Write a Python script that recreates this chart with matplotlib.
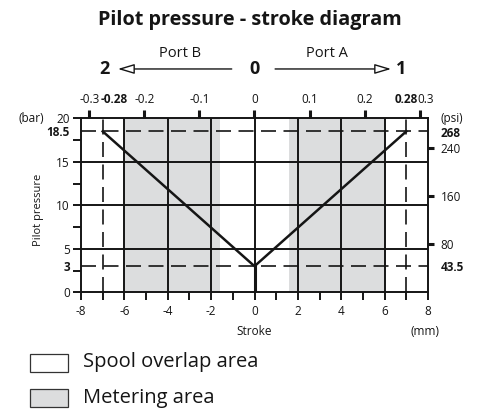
import matplotlib
matplotlib.use("Agg")
import matplotlib.pyplot as plt
from matplotlib.patches import Rectangle
from matplotlib.ticker import FixedLocator
from matplotlib.transforms import ScaledTranslation

plt.rcParams['font.family'] = ['Open Sans', 'DejaVu Sans']

# pilot pressure vs spool stroke
stroke_mm = [-7, 0, 7]
pressure_bar = [18.5, 3, 18.5]

# metering zones on each side of the overlap area (mm)
metering_areas = [(-6, -1.6), (1.6, 6)]

grid_x = [-6, -4, -2, 0, 2, 4, 6]
grid_y = [5, 10, 15]
limit_x = [-7, 7]
limit_y = [3, 18.5]

bar_ticks = [0, 3, 5, 10, 15, 18.5, 20]
bar_labels = ['0', '3', '5', '10', '15', '18.5', '20']
bar_bold = ['3', '18.5']
mm_ticks = [-8, -6, -4, -2, 0, 2, 4, 6, 8]
inch_ticks = [-0.3, -0.2, -0.1, 0, 0.1, 0.2, 0.3]
inch_labels = ['-0.3', '-0.2', '-0.1', '0', '0.1', '0.2', '0.3']
inch_limit_labels = ['-0.28', '0.28']
psi_ticks = [43.5, 80, 160, 240, 268]
psi_labels = ['43.5', '80', '160', '240', '268']
psi_bold = ['43.5', '268']

legend_labels = ['Spool overlap area', 'Metering area']
metering_color = '#dcddde'
ink = '#151515'

MM_PER_IN = 25.4
PSI_PER_BAR = 14.5038
TICK_FS = 8.5

fig = plt.figure(figsize=(4.78, 4.12), dpi=100)
ax = fig.add_axes([81 / 478, 1 - 292.3 / 412, 347 / 478, 174 / 412])
ax.set_xlim(-8, 8)
ax.set_ylim(0, 20)

for x0, x1 in metering_areas:
    ax.axvspan(x0, x1, color=metering_color, lw=0, zorder=0)

for x in grid_x:
    ax.axvline(x, color=ink, lw=1.4, zorder=1)
for y in grid_y:
    ax.axhline(y, color=ink, lw=1.4, zorder=1)
for x in limit_x:
    ax.axvline(x, color=ink, lw=1.2, dashes=(9, 4.5), zorder=1)
for y in limit_y:
    ax.axhline(y, color=ink, lw=1.2, dashes=(9, 4.5), zorder=1)

# thicker stem under the vertex
ax.plot([0, 0], [0, 3], color=ink, lw=2.2, zorder=2)
ax.plot(stroke_mm, pressure_bar, color=ink, lw=1.8, zorder=3)

for sp in ax.spines.values():
    sp.set_linewidth(1.4)
    sp.set_color(ink)

# bottom / left axes
ax.set_xticks(mm_ticks)
ax.set_xticklabels([str(v) for v in mm_ticks])
ax.xaxis.set_minor_locator(FixedLocator(range(-7, 8, 2)))
ax.set_yticks(bar_ticks)
ax.set_yticklabels(bar_labels)
ax.yaxis.set_minor_locator(FixedLocator([2.5, 7.5, 12.5, 17.5]))
ax.tick_params(axis='both', which='both', direction='out', length=6, width=1.4,
               colors=ink, labelsize=TICK_FS)
ax.tick_params(axis='x', pad=3)
ax.tick_params(axis='y', pad=2)
for tick, lbl in zip(ax.yaxis.get_major_ticks(), bar_labels):
    if lbl in bar_bold:
        tick.tick1line.set_visible(False)
        tick.label1.set_fontweight('bold')

# top axis in inches
top = ax.secondary_xaxis('top', functions=(lambda v: v / MM_PER_IN, lambda v: v * MM_PER_IN))
top.set_xticks(inch_ticks)
top.set_xticklabels(inch_labels)
top.tick_params(direction='out', length=6, width=2.2, labelsize=TICK_FS, pad=3, colors=ink)
top.spines['top'].set_visible(False)
# nudge the outer label clear of the bold stroke limit
last = top.xaxis.get_major_ticks()[-1]
last.label2.set_transform(last.label2.get_transform() + ScaledTranslation(6 / 100, 0, fig.dpi_scale_trans))
for xm, lbl in zip([-6.45, 7.0], inch_limit_labels):
    ax.text(xm, 20, lbl, transform=ax.transData + ScaledTranslation(0, 9 / 72, fig.dpi_scale_trans),
            ha='center', va='bottom', fontsize=TICK_FS, fontweight='bold', color=ink, clip_on=False)

# right axis in psi
right = ax.secondary_yaxis('right', functions=(lambda v: v * PSI_PER_BAR, lambda v: v / PSI_PER_BAR))
right.set_yticks(psi_ticks)
right.set_yticklabels(psi_labels)
right.tick_params(direction='out', length=4, width=2.2, labelsize=TICK_FS, pad=5, colors=ink)
right.spines['right'].set_visible(False)
for tick, lbl in zip(right.yaxis.get_major_ticks(), psi_labels):
    if lbl in psi_bold:
        tick.tick1line.set_visible(False)
        tick.tick2line.set_visible(False)
        tick.label1.set_fontweight('bold')
        tick.label2.set_fontweight('bold')

ax.text(-10.3, 20, '(bar)', ha='center', va='center', fontsize=TICK_FS, color=ink)
ax.text(9.1, 20, '(psi)', ha='center', va='center', fontsize=TICK_FS, color=ink)
ax.text(0, -4.56, 'Stroke', ha='center', va='center', fontsize=8.5, color=ink)
ax.text(7.85, -4.56, '(mm)', ha='center', va='center', fontsize=8.5, color=ink)
ax.text(-9.98, 9.5, 'Pilot pressure', ha='center', va='center', rotation=90,
        fontsize=8, color=ink)

# port direction header
head_y = 25.67
ax.text(-6.9, head_y, '2', ha='center', va='center', fontsize=13, fontweight='bold',
        color=ink, clip_on=False)
ax.text(0, head_y, '0', ha='center', va='center', fontsize=13, fontweight='bold',
        color=ink, clip_on=False)
ax.text(6.75, head_y, '1', ha='center', va='center', fontsize=13, fontweight='bold',
        color=ink, clip_on=False)
arrow = dict(arrowstyle='-|>,head_length=1.0,head_width=0.3', fc='white', ec=ink,
             lw=1.0, shrinkA=0, shrinkB=0, mutation_scale=10)
ax.annotate('', xy=(-6.3, head_y), xytext=(-1.05, head_y), arrowprops=arrow, annotation_clip=False)
ax.annotate('', xy=(6.3, head_y), xytext=(0.95, head_y), arrowprops=arrow, annotation_clip=False)
ax.text(-3.45, 27.4, 'Port B', ha='center', va='center', fontsize=10.5, color=ink, clip_on=False)
ax.text(3.35, 27.4, 'Port A', ha='center', va='center', fontsize=10.5, color=ink, clip_on=False)

fig.text(250 / 478, 1 - 20 / 412, 'Pilot pressure - stroke diagram', ha='center', va='center',
         fontsize=14.3, fontweight='bold', color=ink)

# legend boxes
for i, (lbl, fc) in enumerate(zip(legend_labels, ['white', metering_color])):
    yc = 362.5 + i * 35.5
    fig.patches.append(Rectangle((30 / 478, 1 - (yc + 9) / 412), 38 / 478, 18 / 412,
                                 transform=fig.transFigure, fc=fc, ec='#333333', lw=0.9))
    fig.text(83 / 478, 1 - yc / 412, lbl, ha='left', va='center', fontsize=14.5, color=ink)

fig.savefig('out.png', dpi=100)
